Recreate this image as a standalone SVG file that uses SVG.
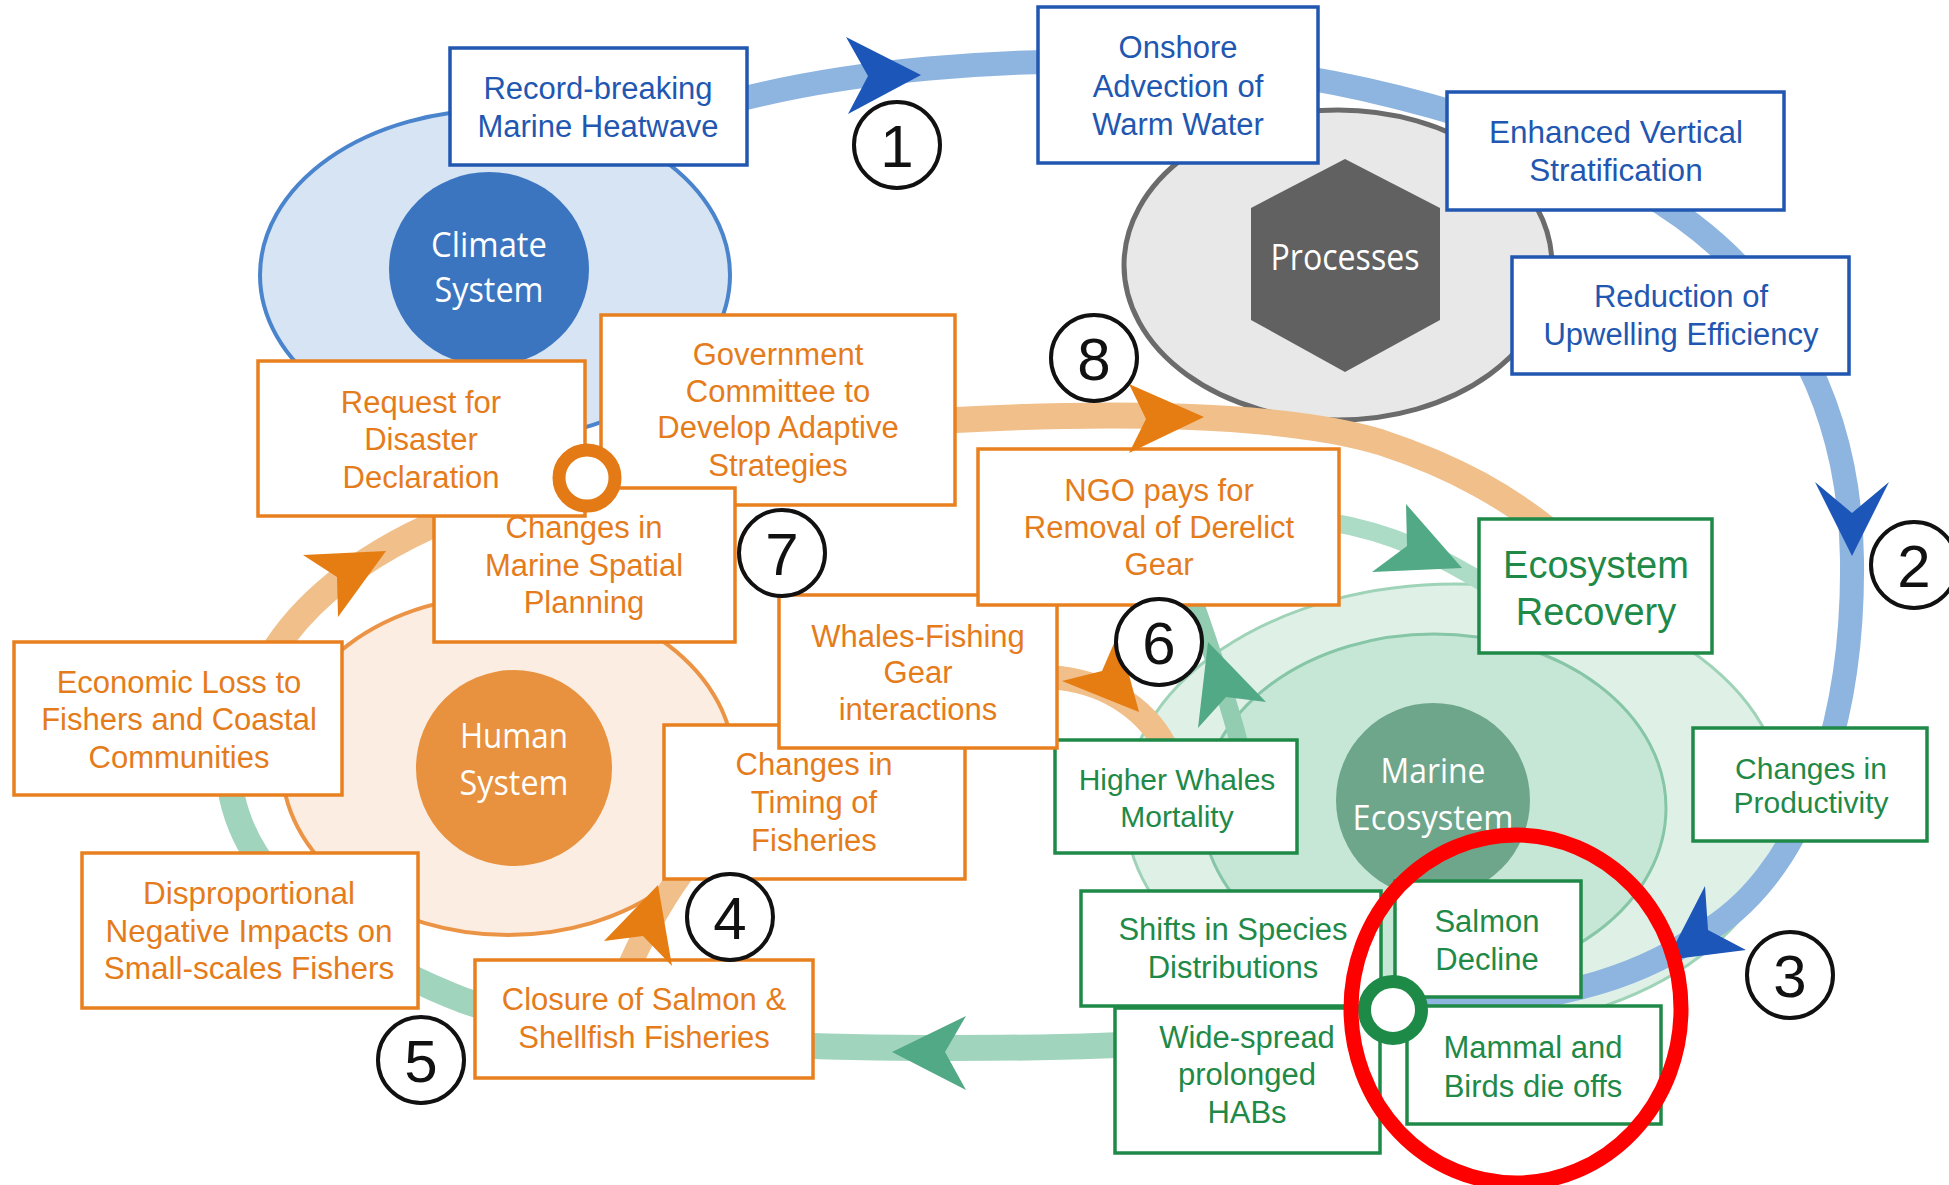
<svg xmlns="http://www.w3.org/2000/svg" width="1949" height="1185" viewBox="0 0 1949 1185">
<style>
.bx{fill:#fff;stroke-width:3.5}
.bb{stroke:#2157b1}
.bo{stroke:#e8801f}
.bg{stroke:#1f8a48}
.t{font-family:"Liberation Sans",Arial,sans-serif;font-size:31px;text-anchor:middle}
.tb{fill:#2157b1}
.to{fill:#e57c1b}
.tg{fill:#1f8a48}
.sys{font-family:"Open Sans","Noto Sans",sans-serif;fill:#fff;text-anchor:middle;font-size:34px}
.num circle{fill:#fff;stroke:#111;stroke-width:4}
.num text{font-family:"Liberation Sans",Arial,sans-serif;font-size:60px;text-anchor:middle;fill:#111}
.band{fill:none;stroke-linecap:butt}
.hb{fill:#1c56b8}
.hg{fill:#52a985}
.ho{fill:#e67d12}
</style>
<rect width="1949" height="1185" fill="#fff"/>

<!-- system backgrounds -->
<g id="climate-system">
  <ellipse cx="495" cy="275" rx="235" ry="165" fill="#d6e4f4" stroke="#4a84cc" stroke-width="4"/>
  <ellipse cx="489" cy="269" rx="100" ry="97" fill="#3b75c0"/>
  <text class="sys"><tspan x="489" y="257" textLength="116" lengthAdjust="spacingAndGlyphs">Climate</tspan><tspan x="489" y="302" textLength="109" lengthAdjust="spacingAndGlyphs">System</tspan></text>
</g>
<g id="processes">
  <ellipse cx="1338" cy="265" rx="214" ry="155" fill="#e8e8e8" stroke="#6b6b6b" stroke-width="5"/>
  <polygon points="1345,159 1440,208 1440,320 1345,372 1251,320 1251,208" fill="#616161"/>
  <text class="sys" x="1345" y="270" style="font-size:36px" textLength="149" lengthAdjust="spacingAndGlyphs">Processes</text>
</g>
<g id="human-system">
  <ellipse cx="508" cy="765" rx="226" ry="170" fill="#fcede2" stroke="#ec9446" stroke-width="4"/>
  <circle cx="514" cy="768" r="98" fill="#e8913e"/>
  <text class="sys"><tspan x="514" y="748" textLength="108" lengthAdjust="spacingAndGlyphs">Human</tspan><tspan x="514" y="795" textLength="109" lengthAdjust="spacingAndGlyphs">System</tspan></text>
</g>
<g id="marine-ecosystem">
  <ellipse cx="1455" cy="807" rx="330" ry="223" fill="#dff1e7" stroke="#9fd3b8" stroke-width="3"/>
  <ellipse cx="1434" cy="808" rx="232" ry="174" fill="#c7e7d6" stroke="#86c6a6" stroke-width="3"/>
  <circle cx="1433" cy="800" r="97" fill="#6ea68b"/>
  <text class="sys"><tspan x="1433" y="783" textLength="105" lengthAdjust="spacingAndGlyphs">Marine</tspan><tspan x="1433" y="830" textLength="161" lengthAdjust="spacingAndGlyphs">Ecosystem</tspan></text>
</g>

<!-- connectors (bands) -->
<g id="connectors">
  <path class="band" stroke="#8eb4e0" stroke-width="24" d="M730,102 C850,70 1000,58 1150,62 C1300,66 1500,110 1640,190 C1780,270 1850,400 1852,560 C1854,730 1800,880 1700,935 C1650,968 1580,1004 1400,1010"/>
  <path class="band" stroke="#a0d4bd" stroke-width="26" d="M1393,1010 C1250,1045 1100,1048 950,1048 C800,1048 560,1042 450,995 C330,945 250,880 232,797 C224,760 232,730 246,700"/>
  <path class="band" stroke="#f0bf8a" stroke-width="26" d="M248,712 C270,620 360,550 470,510 C600,465 800,420 956,420 C1100,412 1280,412 1380,442 C1450,465 1510,495 1575,552"/>
  <path class="band" stroke="#f0bf8a" stroke-width="24" d="M615,1000 C640,940 680,840 800,760 C900,700 1000,672 1060,678 C1110,684 1150,712 1168,752"/>
  <path class="band" stroke="#acdcc6" stroke-width="18" d="M1330,522 C1390,532 1440,555 1495,590"/>
  <path class="band" stroke="#92cdb2" stroke-width="18" d="M1252,795 C1235,720 1215,660 1192,595"/>
</g>

<!-- blue nodes -->
<g id="record-breaking-marine-heatwave"><rect class="bx bb" x="450" y="48" width="297" height="117"/><text class="t tb"><tspan x="598" y="99">Record-breaking</tspan><tspan x="598" y="137">Marine Heatwave</tspan></text></g>
<g id="onshore-advection"><rect class="bx bb" x="1038" y="7" width="280" height="156"/><text class="t tb"><tspan x="1178" y="58">Onshore</tspan><tspan x="1178" y="97">Advection of</tspan><tspan x="1178" y="135">Warm Water</tspan></text></g>
<g id="enhanced-vertical-stratification"><rect class="bx bb" x="1447" y="92" width="337" height="118"/><text class="t tb" style="font-size:31.5px"><tspan x="1616" y="143">Enhanced Vertical</tspan><tspan x="1616" y="181">Stratification</tspan></text></g>
<g id="reduction-upwelling"><rect class="bx bb" x="1512" y="257" width="337" height="117"/><text class="t tb"><tspan x="1681" y="307">Reduction of</tspan><tspan x="1681" y="345">Upwelling Efficiency</tspan></text></g>

<!-- green nodes -->
<g id="ecosystem-recovery"><rect class="bx bg" x="1479" y="519" width="233" height="134"/><text class="t tg" style="font-size:38px"><tspan x="1596" y="578">Ecosystem</tspan><tspan x="1596" y="625">Recovery</tspan></text></g>
<g id="changes-productivity"><rect class="bx bg" x="1693" y="728" width="234" height="113"/><text class="t tg" style="font-size:30px"><tspan x="1811" y="779">Changes in</tspan><tspan x="1811" y="813">Productivity</tspan></text></g>
<g id="higher-whales-mortality"><rect class="bx bg" x="1055" y="740" width="242" height="113"/><text class="t tg" style="font-size:30px"><tspan x="1177" y="790">Higher Whales</tspan><tspan x="1177" y="827">Mortality</tspan></text></g>
<g id="shifts-species"><rect class="bx bg" x="1081" y="891" width="300" height="115"/><text class="t tg"><tspan x="1233" y="940">Shifts in Species</tspan><tspan x="1233" y="978">Distributions</tspan></text></g>
<g id="salmon-decline"><rect class="bx bg" x="1395" y="881" width="186" height="116"/><text class="t tg"><tspan x="1487" y="932">Salmon</tspan><tspan x="1487" y="970">Decline</tspan></text></g>
<g id="wide-spread-habs"><rect class="bx bg" x="1115" y="1008" width="265" height="145"/><text class="t tg"><tspan x="1247" y="1048">Wide-spread</tspan><tspan x="1247" y="1085">prolonged</tspan><tspan x="1247" y="1123">HABs</tspan></text></g>
<g id="mammal-birds"><rect class="bx bg" x="1407" y="1006" width="254" height="118"/><text class="t tg"><tspan x="1533" y="1058">Mammal and</tspan><tspan x="1533" y="1097">Birds die offs</tspan></text></g>

<!-- orange nodes -->
<g id="government-committee"><rect class="bx bo" x="601" y="315" width="354" height="190"/><text class="t to"><tspan x="778" y="365">Government</tspan><tspan x="778" y="402">Committee to</tspan><tspan x="778" y="438">Develop Adaptive</tspan><tspan x="778" y="476">Strategies</tspan></text></g>
<g id="changes-marine-spatial"><rect class="bx bo" x="434" y="488" width="301" height="154"/><text class="t to"><tspan x="584" y="538">Changes in</tspan><tspan x="584" y="576">Marine Spatial</tspan><tspan x="584" y="613">Planning</tspan></text></g>
<g id="request-disaster"><rect class="bx bo" x="258" y="361" width="327" height="155"/><text class="t to"><tspan x="421" y="413">Request for</tspan><tspan x="421" y="450">Disaster</tspan><tspan x="421" y="488">Declaration</tspan></text></g>
<g id="economic-loss"><rect class="bx bo" x="14" y="642" width="328" height="153"/><text class="t to"><tspan x="179" y="693">Economic Loss to</tspan><tspan x="179" y="730">Fishers and Coastal</tspan><tspan x="179" y="768">Communities</tspan></text></g>
<g id="changes-timing"><rect class="bx bo" x="664" y="725" width="301" height="154"/><text class="t to"><tspan x="814" y="775">Changes in</tspan><tspan x="814" y="813">Timing of</tspan><tspan x="814" y="851">Fisheries</tspan></text></g>
<g id="whales-fishing"><rect class="bx bo" x="779" y="595" width="278" height="153"/><text class="t to"><tspan x="918" y="647">Whales-Fishing</tspan><tspan x="918" y="683">Gear</tspan><tspan x="918" y="720">interactions</tspan></text></g>
<g id="ngo-derelict-gear"><rect class="bx bo" x="978" y="449" width="361" height="156"/><text class="t to"><tspan x="1159" y="501">NGO pays for</tspan><tspan x="1159" y="538">Removal of Derelict</tspan><tspan x="1159" y="575">Gear</tspan></text></g>
<g id="disproportional-impacts"><rect class="bx bo" x="82" y="853" width="336" height="155"/><text class="t to" style="font-size:31.5px"><tspan x="249" y="904">Disproportional</tspan><tspan x="249" y="942">Negative Impacts on</tspan><tspan x="249" y="979">Small-scales Fishers</tspan></text></g>
<g id="closure-fisheries"><rect class="bx bo" x="475" y="960" width="338" height="118"/><text class="t to"><tspan x="644" y="1010">Closure of Salmon &amp;</tspan><tspan x="644" y="1048">Shellfish Fisheries</tspan></text></g>

<!-- connector arrowheads -->
<g id="connector-heads">
  <polygon class="hb" points="921,75 846,37 868,76 848,114"/>
  <polygon class="hb" points="1852,556 1815,482 1852,513 1889,482"/>
  <polygon class="hb" points="1667,960 1705,886 1708,930 1746,950"/>
  <polygon class="hg" points="892,1052 966,1016 945,1052 966,1090"/>
  <polygon class="hg" points="1462,568 1406,504 1407,546 1372,572"/>
  <polygon class="hg" points="1208,642 1266,702 1226,697 1198,728"/>
  <polygon class="ho" points="1204,417 1129,384 1146,419 1129,453"/>
  <polygon class="ho" points="1139,712 1118,634 1102,671 1062,681"/>
  <polygon class="ho" points="658,885 604,941 643,936 672,966"/>
  <polygon class="ho" points="386,551 303,555 337,577 338,617"/>
</g>

<!-- junction rings -->
<g id="orange-junction"><circle cx="587" cy="478" r="28" fill="#fff" stroke="#e47a16" stroke-width="13"/></g>
<g id="green-junction"><circle cx="1393" cy="1010" r="28.5" fill="#fff" stroke="#1e8a48" stroke-width="13"/></g>

<!-- step numbers -->
<g id="step-1" class="num"><circle cx="897" cy="145" r="43"/><text x="897" y="167">1</text></g>
<g id="step-2" class="num"><circle cx="1914" cy="565" r="43"/><text x="1914" y="587">2</text></g>
<g id="step-3" class="num"><circle cx="1790" cy="975" r="43"/><text x="1790" y="997">3</text></g>
<g id="step-4" class="num"><circle cx="730" cy="917" r="43"/><text x="730" y="939">4</text></g>
<g id="step-5" class="num"><circle cx="421" cy="1060" r="43"/><text x="421" y="1082">5</text></g>
<g id="step-6" class="num"><circle cx="1159" cy="642" r="43"/><text x="1159" y="664">6</text></g>
<g id="step-7" class="num"><circle cx="782" cy="553" r="43"/><text x="782" y="575">7</text></g>
<g id="step-8" class="num"><circle cx="1094" cy="358" r="43"/><text x="1094" y="380">8</text></g>

<!-- highlight -->
<g id="highlight"><ellipse cx="1516" cy="1009" rx="165" ry="174" fill="none" stroke="#f00" stroke-width="15"/></g>
</svg>
